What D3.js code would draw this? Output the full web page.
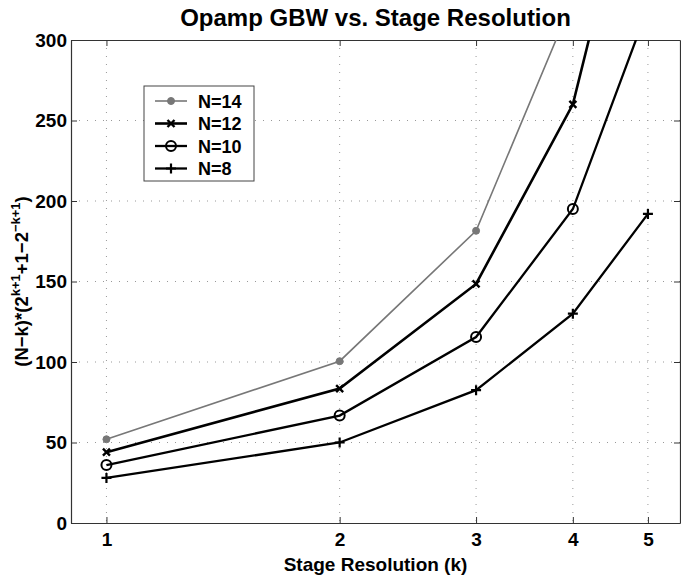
<!DOCTYPE html>
<html><head><meta charset="utf-8">
<script src="https://cdn.jsdelivr.net/npm/d3@7"></script>
<style>body{margin:0;background:#fff}svg{display:block}text{font-family:"Liberation Sans",Arial,sans-serif;font-weight:bold;fill:#000}</style>
</head><body>
<script>
const kValues = [1, 2, 3, 4, 5];
const seriesNames = ["N=14", "N=12", "N=10", "N=8"];
const n14 = [52, 100.5, 181.5, 325, 576];
const n12 = [44, 83.5, 148.5, 260, 448];
const n10 = [36, 66.7, 115.5, 195, 320];
const n8 = [28, 50, 82.5, 130, 192];
const yTicks = [0, 50, 100, 150, 200, 250, 300];
const xTicks = [1, 2, 3, 4, 5];
const seriesValues = [n14, n12, n10, n8];
const markers = ["dot", "x", "o", "plus"];
const colors = ["#777", "#000", "#000", "#000"];
const widths = [1.6, 2.6, 2.3, 2.3];

const W = 681, H = 577;
const m = {l: 71, r: 1, t: 40, b: 54};
const svg = d3.select("body").append("svg").attr("width", W).attr("height", H);
const x = d3.scaleLog().domain([0.9, 5.5]).range([m.l, W - m.r]);
const y = d3.scaleLinear().domain([0, 300]).range([H - m.b, m.t]);

// grid (dotted)
const g = svg.append("g");
g.selectAll(".gx").data(xTicks).join("line")
  .attr("x1", d => x(d)).attr("x2", d => x(d)).attr("y1", m.t).attr("y2", H - m.b)
  .attr("stroke", "#999").attr("stroke-width", 1).attr("stroke-dasharray", "1,7");
g.selectAll(".gy").data(yTicks.slice(1, -1)).join("line")
  .attr("x1", m.l).attr("x2", W - m.r).attr("y1", d => y(d)).attr("y2", d => y(d))
  .attr("stroke", "#999").attr("stroke-width", 1).attr("stroke-dasharray", "1,7");

// axes
const ax = svg.append("g").attr("transform", `translate(0,${H - m.b})`)
  .call(d3.axisBottom(x).tickValues(xTicks).tickFormat(d3.format("d")).tickSizeInner(-6).tickSizeOuter(0).tickPadding(10));
const ay = svg.append("g").attr("transform", `translate(${m.l},0)`)
  .call(d3.axisLeft(y).tickValues(yTicks).tickSizeInner(-6).tickSizeOuter(0).tickPadding(4));
const at = svg.append("g").attr("transform", `translate(0,${m.t})`)
  .call(d3.axisTop(x).tickValues(xTicks).tickFormat("").tickSizeInner(-6).tickSizeOuter(0));
const ar = svg.append("g").attr("transform", `translate(${W - m.r},0)`)
  .call(d3.axisRight(y).tickValues(yTicks).tickFormat("").tickSizeInner(-6).tickSizeOuter(0));
[ax, ay, at, ar].forEach(a => {
  a.selectAll("path").attr("stroke", "#333").attr("stroke-width", 1.2);
  a.selectAll("line").attr("stroke", "#333");
  a.selectAll("text").attr("font-size", 19).attr("font-weight", "bold")
    .attr("font-family", '"Liberation Sans",Arial,sans-serif').attr("fill", "#000");
});

// clip
svg.append("clipPath").attr("id", "clip").append("rect")
  .attr("x", m.l).attr("y", m.t).attr("width", W - m.r - m.l).attr("height", H - m.b - m.t);

function drawMarker(sel, type, color, cx, cy) {
  if (type === "dot") {
    sel.append("circle").attr("cx", cx).attr("cy", cy).attr("r", 3.5).attr("fill", color).attr("stroke", color);
  } else if (type === "x") {
    const s = 3.5;
    sel.append("path").attr("d", `M${cx - s},${cy - s}L${cx + s},${cy + s}M${cx - s},${cy + s}L${cx + s},${cy - s}`)
      .attr("stroke", color).attr("stroke-width", 2.4).attr("fill", "none");
  } else if (type === "o") {
    sel.append("circle").attr("cx", cx).attr("cy", cy).attr("r", 5).attr("fill", "none")
      .attr("stroke", color).attr("stroke-width", 2);
  } else {
    const s = 5;
    sel.append("path").attr("d", `M${cx - s},${cy}L${cx + s},${cy}M${cx},${cy - s}L${cx},${cy + s}`)
      .attr("stroke", color).attr("stroke-width", 2.2).attr("fill", "none");
  }
}

const line = d3.line().x((d, i) => x(kValues[i])).y(d => y(d));
const plot = svg.append("g").attr("clip-path", "url(#clip)");
seriesValues.forEach((vals, si) => {
  plot.append("path").attr("d", line(vals)).attr("fill", "none")
    .attr("stroke", colors[si]).attr("stroke-width", widths[si]);
  vals.forEach((v, i) => drawMarker(plot, markers[si], colors[si], x(kValues[i]), y(v)));
});

// legend
const lg = svg.append("g");
lg.append("rect").attr("x", 144).attr("y", 86).attr("width", 110).attr("height", 95)
  .attr("fill", "#fff").attr("stroke", "#444").attr("stroke-width", 1);
seriesNames.forEach((n, i) => {
  const yy = 101 + i * 22.5;
  lg.append("line").attr("x1", 155).attr("x2", 187).attr("y1", yy).attr("y2", yy)
    .attr("stroke", colors[i]).attr("stroke-width", widths[i]);
  drawMarker(lg, markers[i], colors[i], 171, yy);
  lg.append("text").attr("x", 198).attr("y", yy + 6.5).attr("font-size", 18).text(n);
});

// title
svg.append("text").attr("x", (m.l + W - m.r) / 2).attr("y", 26).attr("text-anchor", "middle")
  .attr("font-size", 24).text("Opamp GBW vs. Stage Resolution");
// x label
svg.append("text").attr("x", (m.l + W - m.r) / 2).attr("y", 571).attr("text-anchor", "middle")
  .attr("font-size", 19).text("Stage Resolution (k)");
// y label
const yl = svg.append("text").attr("transform", `translate(28,${(m.t + H - m.b) / 2}) rotate(-90)`)
  .attr("text-anchor", "middle").attr("font-size", 18.5);
yl.append("tspan").text("(N\u2212k)*(2");
yl.append("tspan").attr("dy", -8).attr("font-size", 13).text("k+1");
yl.append("tspan").attr("dy", 8).text("+1\u22122");
yl.append("tspan").attr("dy", -8).attr("font-size", 13).text("\u2212k+1");
yl.append("tspan").attr("dy", 8).text(")");
</script>
</body></html>
